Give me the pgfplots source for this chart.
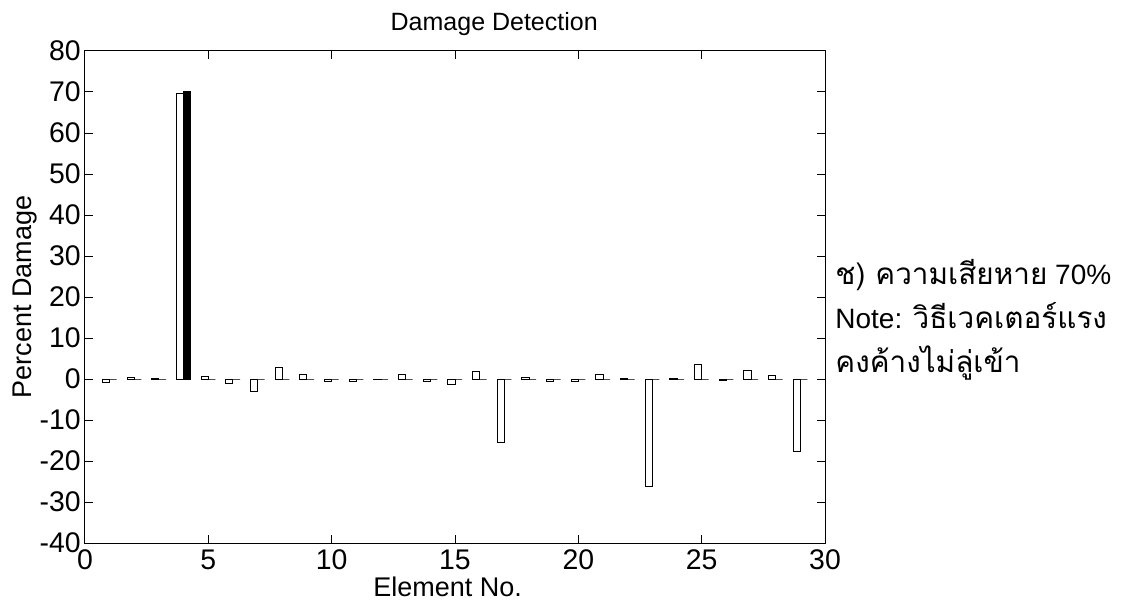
\documentclass[border=0pt]{standalone}
\usepackage{fontspec}
\setmainfont{Liberation Sans}
\newfontfamily\thaifont[Script=Thai,Scale=1.06]{Loma}
\usepackage{pgfplots}
\pgfplotsset{compat=1.18}
\begin{document}
\begin{tikzpicture}
\useasboundingbox (-42.5pt,-32pt) rectangle (521pt,271.5pt);
\begin{axis}[
  at={(0,0)}, anchor=south west,
  scale only axis, width=370pt, height=246pt,
  xmin=0, xmax=30, ymin=-40, ymax=80,
  xtick={0,5,...,30}, ytick={-40,-30,...,80},
  tick align=inside, major tick length=4pt,
  axis line style={line width=0.5pt},
  every tick/.style={black, line width=0.5pt},
  /pgf/number format/assume math mode=true,
  tick label style={font=\fontsize{14.2}{16}\selectfont},
  xticklabel style={anchor=base, yshift=-13pt},
  yticklabel style={anchor=east, inner sep=0pt, xshift=-2pt},
  title={Damage Detection},
  title style={at={(axis description cs:0.553,1)}, anchor=base, yshift=4pt, font=\fontsize{12.5}{15}\selectfont},
  xlabel={Element No.},
  xlabel style={at={(axis description cs:0.49,0)}, anchor=base, yshift=-26.5pt, inner sep=0pt, font=\fontsize{13.5}{15}\selectfont},
  ylabel={Percent Damage},
  ylabel style={at={(axis description cs:-0.081,0.5)}, anchor=center, font=\fontsize{13.5}{15}\selectfont},
  clip=false,
]
\addplot[ybar, bar width=0.2857, bar shift=-0.1429, fill=white, draw=black, line width=0.5pt] coordinates {
 (1,-0.9) (2,0.3) (3,0.1) (4,69.6) (5,0.7) (6,-1.1) (7,-3.0) (8,2.8) (9,1.0) (10,-0.6)
 (11,-0.6) (12,-0.2) (13,1.0) (14,-0.7) (15,-1.3) (16,1.8) (17,-15.4) (18,0.3) (19,-0.5) (20,-0.6)
 (21,1.2) (22,0.1) (23,-26.3) (24,0.2) (25,3.6) (26,-0.4) (27,2.0) (28,0.8) (29,-17.6)
};
\addplot[ybar, bar width=0.2857, bar shift=0.1429, fill=black, draw=black, line width=0.5pt] coordinates {
 (1,0) (2,0) (3,0) (4,70) (5,0) (6,0) (7,0) (8,0) (9,0) (10,0)
 (11,0) (12,0) (13,0) (14,0) (15,0) (16,0) (17,0) (18,0) (19,0) (20,0)
 (21,0) (22,0) (23,0) (24,0) (25,0) (26,0) (27,0) (28,0) (29,0)
};
\end{axis}
\begin{scope}[every node/.style={anchor=base west, inner sep=0pt, font=\fontsize{14}{16}\selectfont}]
\node at (375pt,129.5pt) {{\thaifont ช) ความเสียหาย} 70\%};
\node at (375pt,107.5pt) {Note: {\thaifont วิธีเวคเตอร์แรง}};
\node at (375pt,85.5pt) {{\thaifont คงค้างไม่ลู่เข้า}};
\end{scope}
\end{tikzpicture}
\end{document}
